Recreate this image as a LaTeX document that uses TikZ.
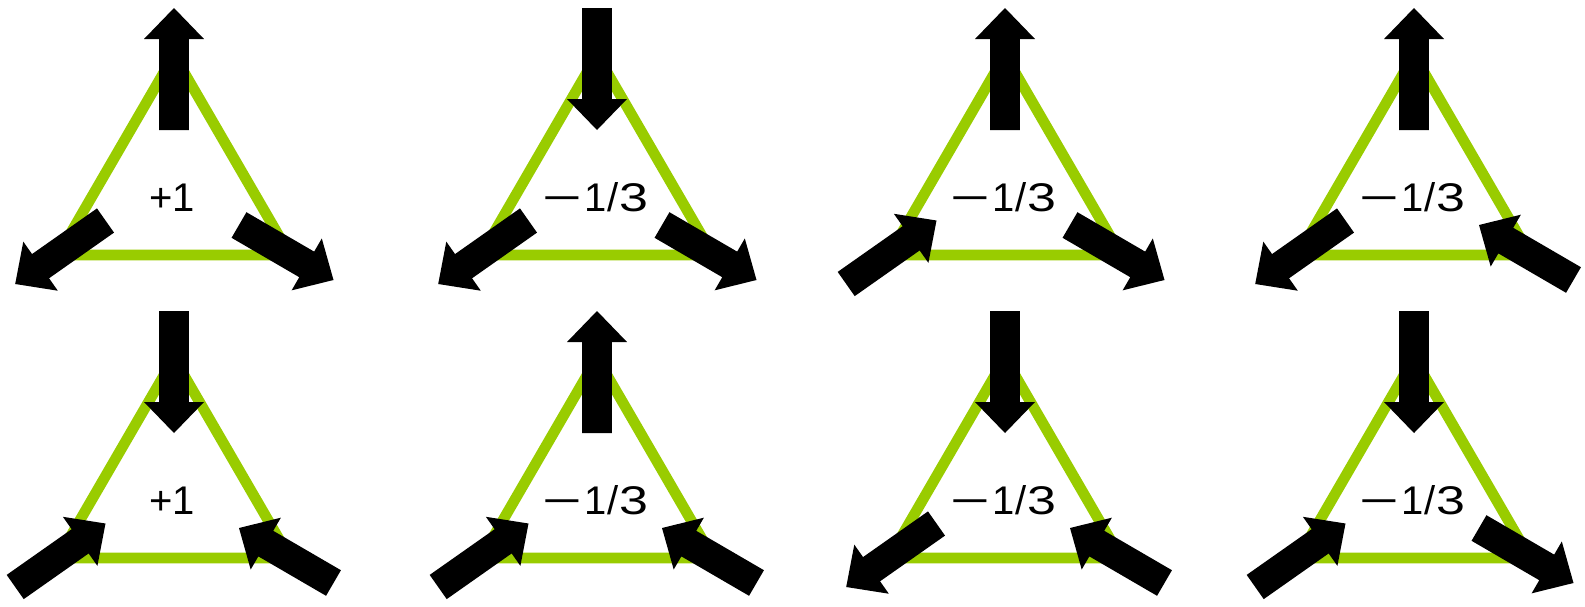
\documentclass[tikz,border=0pt]{standalone}
\usepackage{fontspec}
\setmainfont{Liberation Sans}
\usetikzlibrary{calc}
\definecolor{trigreen}{RGB}{153,204,0}
\newcommand\mns{\scalebox{1.7}[1]{−}}
\newcommand\thr{\scalebox{1.3}[1]{3}}
\newcommand\plab{+1}
\newcommand\mlab{\mns\hspace{3pt}1\hspace{1pt}/\thr}
\tikzset{
  tribox/.style={draw=trigreen, line width=10.7pt},
  arrowbody/.style={fill=black},
  lab/.style={font=\fontsize{40}{48}\selectfont, inner sep=0pt, anchor=base}
}
\newcommand\blockarrow[2]{%
  \coordinate (ah) at ($(#2)!31pt!(#1)$);
  \fill[arrowbody] ($(#1)!14.8pt!90:(#2)$) -- ($(ah)!14.8pt!90:(#2)$) -- ($(ah)!30pt!90:(#2)$) -- (#2) -- ($(ah)!30pt!-90:(#2)$) -- ($(ah)!14.8pt!-90:(#2)$) -- ($(#1)!14.8pt!-90:(#2)$) -- cycle;}
\newcommand\triset[4]{%
  \coordinate (#1) at (#2,#3);
  \coordinate (#1-a) at ($(#1)+(0,-133)$);
  \coordinate (#1-b) at ($(#1)+(-116,67)$);
  \coordinate (#1-c) at ($(#1)+(116,67)$);
  \draw[tribox] (#1-a) -- (#1-b) -- (#1-c) -- cycle;
  \node[lab] (#1-txt) at ($(#1)+(-2,23)$) {#4};
  \coordinate (#1-ti) at ($(#1)+(0,-58)$);
  \coordinate (#1-to) at ($(#1)+(0,-180)$);
  \coordinate (#1-li) at ($(#1)+(-68.5,32.5)$);
  \coordinate (#1-lo) at ($(#1)+(-158.8,96)$);
  \coordinate (#1-ri) at ($(#1)+(65,37)$);
  \coordinate (#1-ro) at ($(#1)+(159.5,92)$);
}
\newcommand\vout[2]{\blockarrow{#1-#2i}{#1-#2o}}
\newcommand\vin[2]{\blockarrow{#1-#2o}{#1-#2i}}
\begin{document}
\begin{tikzpicture}[x=1pt,y=-1pt]
\useasboundingbox (0,0) rectangle (1585,606);
% top row
\triset{A}{174}{188}{\plab}  \vout{A}{t}\vout{A}{l}\vout{A}{r}
\triset{B}{597}{188}{\mlab}  \vin{B}{t}\vout{B}{l}\vout{B}{r}
\triset{C}{1005}{188}{\mlab} \vout{C}{t}\vin{C}{l}\vout{C}{r}
\triset{D}{1414}{188}{\mlab} \vout{D}{t}\vout{D}{l}\vin{D}{r}
% bottom row
\triset{E}{174}{491}{\plab}  \vin{E}{t}\vin{E}{l}\vin{E}{r}
\triset{F}{597}{491}{\mlab}  \vout{F}{t}\vin{F}{l}\vin{F}{r}
\triset{G}{1005}{491}{\mlab} \vin{G}{t}\vout{G}{l}\vin{G}{r}
\triset{H}{1414}{491}{\mlab} \vin{H}{t}\vin{H}{l}\vout{H}{r}
\end{tikzpicture}
\end{document}
